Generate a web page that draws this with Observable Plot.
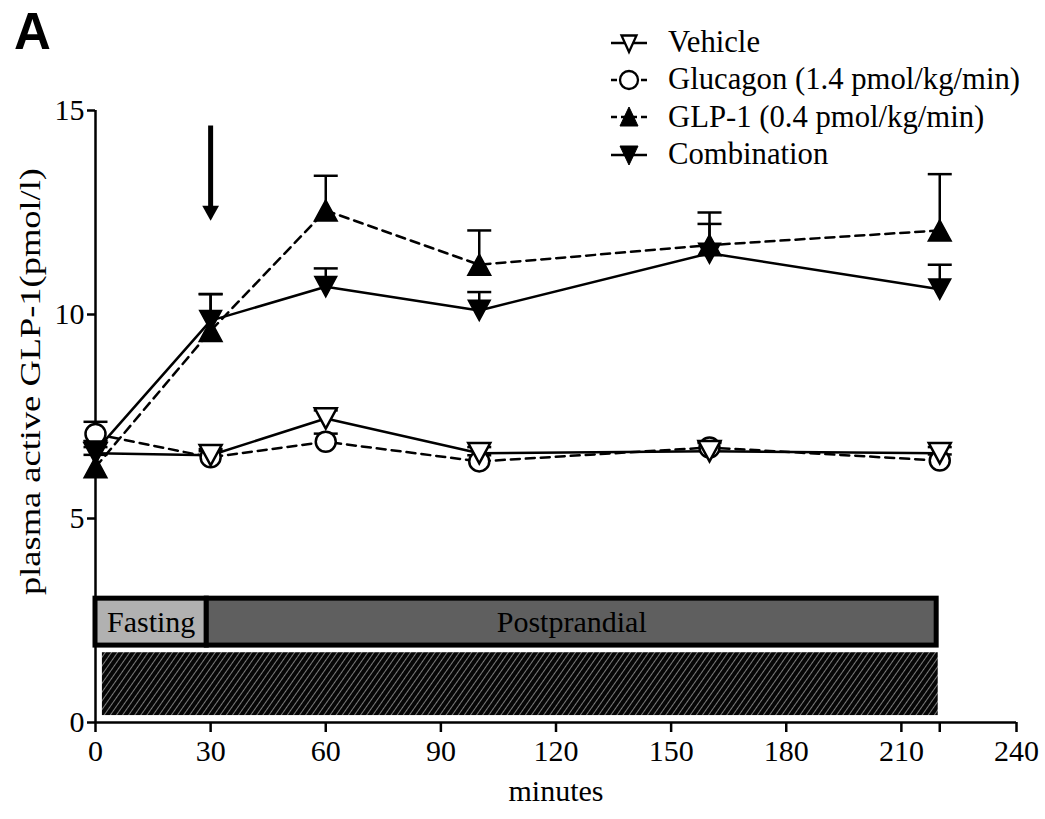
<!DOCTYPE html>
<html>
<head>
<meta charset="utf-8">
<script src="https://cdn.jsdelivr.net/npm/d3@7"></script>
<script src="https://cdn.jsdelivr.net/npm/@observablehq/plot@0.6"></script>
<style>
  body { margin: 0; background: #fff; }
  #wrap { position: relative; width: 1045px; height: 819px; font-family: "Liberation Serif", "Times New Roman", serif; color: #000; }
  #chart { position: absolute; left: 0; top: 0; }
  #panel { position: absolute; left: 14px; top: 6px; font: bold 51px/51px "Liberation Sans", Arial, sans-serif; }
  #legend { position: absolute; left: 609px; top: 24px; }
  .row { display: flex; align-items: center; height: 37.3px; font-size: 30.7px; white-space: nowrap; }
  .row svg { margin-right: 19px; flex: none; }
</style>
</head>
<body>
<div id="wrap">
  <div id="chart"></div>
  <div id="panel">A</div>
  <div id="legend"></div>
</div>
<script>
// ---------------- data ----------------
const minutes = [0, 30, 60, 100, 160, 220];
const seriesNames = ["Vehicle", "Glucagon (1.4 pmol/kg/min)", "GLP-1 (0.4 pmol/kg/min)", "Combination"];

const vehicleMean = [6.6, 6.55, 7.45, 6.6, 6.65, 6.6];
const vehicleSem = [0.15, 0.15, 0.2, 0.15, 0.2, 0.15];
const glucagonMean = [7.07, 6.5, 6.88, 6.4, 6.74, 6.42];
const glucagonSem = [0.3, 0.15, 0.2, 0.15, 0.15, 0.15];
const glp1Mean = [6.26, 9.6, 12.55, 11.22, 11.7, 12.06];
const glp1Sem = [0.3, 0.9, 0.85, 0.84, 0.8, 1.38];
const combinationMean = [6.65, 9.85, 10.68, 10.1, 11.5, 10.62];
const combinationSem = [0.25, 0.65, 0.45, 0.45, 0.72, 0.6];

const xTicks = [0, 30, 60, 90, 120, 150, 180, 210, 240];
const xExtraTicks = [220];
const yTicks = [0, 5, 10, 15];

const phaseLabels = ["Fasting", "Postprandial"];
const phaseStart = [0, 29];
const phaseEnd = [29, 219.2];
const infusionStart = [1.8];
const infusionEnd = [219.6];

const arrowMinute = [30];
const arrowFrom = [14.62];
const arrowTo = [12.3];

const xLabel = "minutes";
const yLabel = "plasma active GLP-1(pmol/l)";

// ---------------- styles ----------------
const triUp = {draw(ctx, size) { const r = Math.sqrt(size / Math.PI), h = r * 1.85;
  ctx.moveTo(0, -h / 2); ctx.lineTo(r, h / 2); ctx.lineTo(-r, h / 2); ctx.closePath(); }};
const triDown = {draw(ctx, size) { const r = Math.sqrt(size / Math.PI), h = r * 1.85;
  ctx.moveTo(0, h / 2); ctx.lineTo(r, -h / 2); ctx.lineTo(-r, -h / 2); ctx.closePath(); }};
const capSym = {draw(ctx, size) { const r = Math.sqrt(size / Math.PI);
  ctx.moveTo(-r, 0); ctx.lineTo(r, 0); }};
const headSym = {draw(ctx, size) { const r = Math.sqrt(size / Math.PI);
  ctx.moveTo(0, 0); ctx.lineTo(-0.56 * r, -r); ctx.lineTo(0.56 * r, -r); ctx.closePath(); }};

const seriesStyle = {
  "Vehicle": {symbol: triDown, r: 11, fill: "white", sw: 2.5, dash: null, legend: "vdown"},
  "Glucagon (1.4 pmol/kg/min)": {symbol: "circle", r: 10, fill: "white", sw: 2.5, dash: "9,6", legend: "circle"},
  "GLP-1 (0.4 pmol/kg/min)": {symbol: triUp, r: 11.5, fill: "black", sw: 1.5, dash: "9,6", legend: "up"},
  "Combination": {symbol: triDown, r: 11, fill: "black", sw: 1.5, dash: null, legend: "down"}
};

// ---------------- build tables ----------------
const means = [vehicleMean, glucagonMean, glp1Mean, combinationMean];
const sems = [vehicleSem, glucagonSem, glp1Sem, combinationSem];
const rows = [];
seriesNames.forEach((name, k) => minutes.forEach((t, i) =>
  rows.push({series: name, t, v: means[k][i], e: sems[k][i]})));
const phases = phaseLabels.map((label, i) => ({label, x1: phaseStart[i], x2: phaseEnd[i]}));
const infusion = infusionStart.map((s, i) => ({x1: s, x2: infusionEnd[i]}));
const arrows = arrowMinute.map((t, i) => ({t, from: arrowFrom[i], to: arrowTo[i]}));

const phaseFill = {"Fasting": "#b1b1b1", "Postprandial": "#5f5f5f"};
const drawOrder = ["Glucagon (1.4 pmol/kg/min)", "Vehicle", "GLP-1 (0.4 pmol/kg/min)", "Combination"];

const marks = [
  Plot.rect(phases, {x1: "x1", x2: "x2", y1: 1.885, y2: 3.035, fill: d => phaseFill[d.label], stroke: "black", strokeWidth: 5}),
  Plot.rect(infusion, {x1: "x1", x2: "x2", y1: 0.17, y2: 1.71, fill: "url(#hatch)"}),
  Plot.text(phases, {x: d => (d.x1 + d.x2) / 2, y: 2.46, text: "label", fontSize: 30, fill: "black"}),
  Plot.ruleY([0], {strokeWidth: 2.5}),
  Plot.ruleX([0], {strokeWidth: 2.5}),
  Plot.axisX({ticks: xTicks, tickSize: 10, tickPadding: 7, fontSize: 30, strokeWidth: 2.5, label: null}),
  Plot.axisX({ticks: xExtraTicks, tickSize: 10, tickFormat: () => "", strokeWidth: 2.5, label: null}),
  Plot.axisY({ticks: yTicks, tickSize: 8, tickPadding: 3, fontSize: 30, strokeWidth: 2.5, label: null}),
  Plot.text([xLabel], {frameAnchor: "bottom", dy: 78, fontSize: 30, fill: "black"}),
  Plot.text([yLabel], {frameAnchor: "left", textAnchor: "middle", rotate: -90, dx: -65, dy: -35, fontSize: 30, fill: "black"}),
  // error bars (upper only)
  Plot.ruleX(rows, {x: "t", y1: "v", y2: d => d.v + d.e, strokeWidth: 2.5}),
  Plot.dot(rows, {x: "t", y: d => d.v + d.e, symbol: capSym, r: 12, fill: "none", stroke: "black", strokeWidth: 2.5})
];
for (const name of seriesNames) {
  const s = seriesStyle[name];
  marks.push(Plot.line(rows.filter(d => d.series === name), {x: "t", y: "v", stroke: "black", strokeWidth: 2.5, strokeDasharray: s.dash}));
}
for (const name of drawOrder) {
  const s = seriesStyle[name];
  marks.push(Plot.dot(rows.filter(d => d.series === name), {x: "t", y: "v", symbol: s.symbol, r: s.r, fill: s.fill, stroke: "black", strokeWidth: s.sw}));
}
marks.push(
  Plot.ruleX(arrows, {x: "t", y1: "from", y2: d => d.to + 0.3, strokeWidth: 5}),
  Plot.dot(arrows, {x: "t", y: "to", symbol: headSym, r: 15, fill: "black", stroke: "none"})
);

const svg = Plot.plot({
  width: 1045, height: 819,
  marginLeft: 95, marginRight: 29, marginTop: 110, marginBottom: 97,
  x: {domain: [0, 240]},
  y: {domain: [0, 15]},
  style: {fontFamily: '"Liberation Serif", "Times New Roman", serif', fontSize: "30px", color: "black", background: "white", overflow: "visible"},
  marks
});

// hatch pattern definition
const ns = "http://www.w3.org/2000/svg";
const defs = document.createElementNS(ns, "defs");
defs.innerHTML = '<pattern id="hatch" patternUnits="userSpaceOnUse" width="5" height="5" patternTransform="rotate(35)">' +
  '<rect width="5" height="5" fill="#060606"/>' +
  '<line x1="0" y1="-1" x2="0" y2="6" stroke="#dcdcdc" stroke-width="1.1"/></pattern>';
svg.insertBefore(defs, svg.firstChild);

// stretch y label to the reference length
d3.select(svg).selectAll("text").filter(function () { return this.textContent === yLabel; })
  .attr("textLength", 427).attr("lengthAdjust", "spacingAndGlyphs");

document.getElementById("chart").appendChild(svg);

// ---------------- legend ----------------
function legendIcon(kind, dash) {
  const line = `<line x1="2" x2="38" y1="15" y2="15" stroke="black" stroke-width="2.5"${dash ? ' stroke-dasharray="6,4"' : ''}/>`;
  let m = "";
  if (kind === "vdown") m = '<path d="M12.5,7.5 L27.5,7.5 L20,24 Z" fill="white" stroke="black" stroke-width="2.3"/>';
  if (kind === "circle") m = '<circle cx="20" cy="15" r="9" fill="white" stroke="black" stroke-width="2.3"/>';
  if (kind === "up") m = '<path d="M20,5 L29,24 L11,24 Z" fill="black" stroke="black" stroke-width="1"/>';
  if (kind === "down") m = '<path d="M11,6 L29,6 L20,25 Z" fill="black" stroke="black" stroke-width="1"/>';
  return `<svg width="40" height="30" viewBox="0 0 40 30">${line}${m}</svg>`;
}
const legend = document.getElementById("legend");
seriesNames.forEach(name => {
  const s = seriesStyle[name];
  const row = document.createElement("div");
  row.className = "row";
  row.innerHTML = legendIcon(s.legend, s.dash) + `<span>${name}</span>`;
  legend.appendChild(row);
});
</script>
</body>
</html>
